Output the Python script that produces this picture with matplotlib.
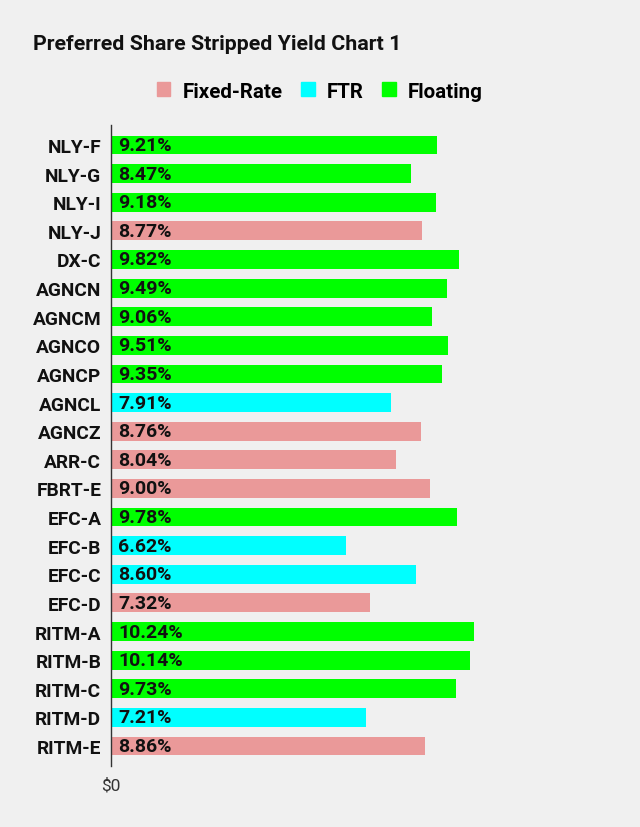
import matplotlib
matplotlib.use("Agg")
from matplotlib import pyplot as plt
from matplotlib.patches import Patch

tickers = ["NLY-F", "NLY-G", "NLY-I", "NLY-J", "DX-C", "AGNCN", "AGNCM", "AGNCO",
           "AGNCP", "AGNCL", "AGNCZ", "ARR-C", "FBRT-E", "EFC-A", "EFC-B", "EFC-C",
           "EFC-D", "RITM-A", "RITM-B", "RITM-C", "RITM-D", "RITM-E"]
yields = [9.21, 8.47, 9.18, 8.77, 9.82, 9.49, 9.06, 9.51, 9.35, 7.91, 8.76, 8.04,
          9.00, 9.78, 6.62, 8.60, 7.32, 10.24, 10.14, 9.73, 7.21, 8.86]
kinds = ["Floating", "Floating", "Floating", "Fixed-Rate", "Floating", "Floating",
         "Floating", "Floating", "Floating", "FTR", "Fixed-Rate", "Fixed-Rate",
         "Fixed-Rate", "Floating", "FTR", "FTR", "Fixed-Rate", "Floating", "Floating",
         "Floating", "FTR", "Fixed-Rate"]
kind_names = ["Fixed-Rate", "FTR", "Floating"]
kind_colors = {"Fixed-Rate": "#ea9999", "FTR": "#00ffff", "Floating": "#00ff00"}

plt.rcParams['font.family'] = ['Roboto', 'DejaVu Sans']
bg = "#f0f0f0"

fig = plt.figure(figsize=(6.4, 8.28), dpi=100, facecolor=bg)
# axes: left at x=111px, top y=126px, bottom y=767px
ax = fig.add_axes([111 / 640, 1 - 767 / 828, 496 / 640, 641 / 828])
ax.set_facecolor(bg)

ys = list(range(len(tickers)))
ax.barh(ys, yields, height=0.66, color=[kind_colors[k] for k in kinds])
for y, v in zip(ys, yields):
    ax.text(0.2, y, f"{v:.2f}%", va="center", ha="left", fontsize=14,
            fontweight="bold", color="#111111")

ax.set_ylim(len(tickers) - 0.3, -0.7)
ax.set_xlim(0, 14)
ax.set_yticks(ys)
ax.set_yticklabels(tickers, fontsize=13.8, fontweight="bold", color="#111111")
ax.set_xticks([0])
ax.set_xticklabels(["$0"], fontsize=12.5, color="#333333")
ax.tick_params(axis="y", length=0, pad=7)
ax.tick_params(axis="x", length=0, pad=8)
for s in ["top", "right", "bottom"]:
    ax.spines[s].set_visible(False)
ax.spines["left"].set_color("#333333")
ax.spines["left"].set_linewidth(1)

fig.text(33 / 640, 1 - 44 / 828, "Preferred Share Stripped Yield Chart 1",
         fontsize=15.4, fontweight="bold", va="center", ha="left", color="#111111")

handles = [Patch(color=kind_colors[k], label=k) for k in kind_names]
fig.legend(handles=handles, loc="center", bbox_to_anchor=(0.5, 1 - 92 / 828),
           ncol=3, frameon=False, handlelength=0.65, handleheight=0.65,
           handletextpad=0.6, columnspacing=0.9,
           prop={"family": "Roboto", "weight": "bold", "size": 14.8})

fig.savefig("out.png", dpi=100, facecolor=bg)
